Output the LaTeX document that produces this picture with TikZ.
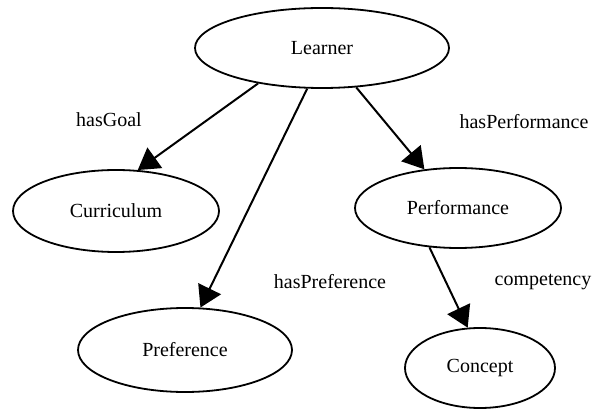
\documentclass[tikz,border=0pt]{standalone}
\usepackage{fontspec}
\setmainfont{Liberation Serif}
\usepackage{tikz}
\usetikzlibrary{arrows.meta,shapes.geometric}

\begin{document}
\begin{tikzpicture}[x=1pt, y=-1pt, auto, >={Triangle[length=21pt,width=25pt]},
  cls/.style={ellipse,draw=black,line width=1.8pt,inner sep=0pt,font=\fontsize{20}{24}\selectfont},
  rel/.style={font=\fontsize{20}{24}\selectfont},
  link/.style={->,line width=2pt}]

\useasboundingbox[fill=white] (0,0) rectangle (599,411);

% classes
\node (learner) at (322, 48) [cls,minimum width=254pt,minimum height=80pt] {Learner};
\node (curriculum) at (116, 211) [cls,minimum width=206pt,minimum height=82pt] {Curriculum};
\node (performance) at (458, 208) [cls,minimum width=206pt,minimum height=80pt] {Performance};
\node (preference) at (185, 350) [cls,minimum width=214pt,minimum height=84pt] {Preference};
\node (concept) at (480, 368) [cls,minimum width=150pt,minimum height=80pt] {Concept};

% properties
\node (hasgoal) at (109, 120) [rel] {hasGoal};
\node (hasperf) at (524, 122) [rel] {hasPerformance};
\node (haspref) at (330, 282) [rel] {hasPreference};
\node (compet) at (543, 282) [rel] {competency};

\draw[link] (learner.209) -- (curriculum.62);
\draw[link] (learner.250) -- (preference.70);
\draw[link] (learner.311) -- (performance.131);
\draw[link] (performance.234) -- (concept.107);

\end{tikzpicture}
\end{document}
